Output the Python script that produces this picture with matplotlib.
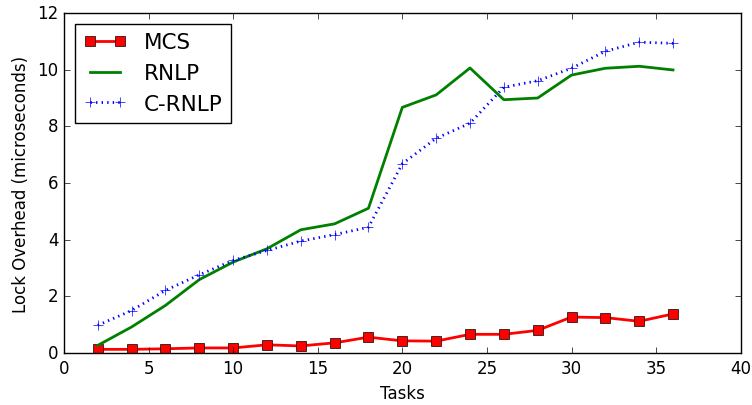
import matplotlib
matplotlib.use('Agg')
import matplotlib.pyplot as plt

# Data
tasks = [2, 4, 6, 8, 10, 12, 14, 16, 18, 20, 22, 24, 26, 28, 30, 32, 34, 36]
mcs = [0.13, 0.13, 0.15, 0.18, 0.18, 0.29, 0.25, 0.36, 0.56, 0.43,
       0.42, 0.66, 0.66, 0.80, 1.27, 1.25, 1.12, 1.38]
rnlp = [0.27, 0.92, 1.68, 2.59, 3.21, 3.68, 4.35, 4.56, 5.11, 8.67,
        9.11, 10.06, 8.94, 9.00, 9.81, 10.05, 10.12, 9.99]
crnlp = [0.98, 1.50, 2.21, 2.76, 3.27, 3.62, 3.95, 4.18, 4.44, 6.68,
         7.58, 8.11, 9.38, 9.61, 10.05, 10.65, 10.97, 10.93]

plt.style.use('classic')
plt.rcParams['font.family'] = ['DejaVu Sans']
fig = plt.figure(figsize=(7.52, 4.06), dpi=100)
ax = fig.add_axes([0.085, 0.128, 0.9, 0.8375])

ax.plot(tasks, mcs, color='r', linewidth=2, marker='s', markersize=7,
        markeredgecolor='k', label='MCS')
ax.plot(tasks, rnlp, color='g', linewidth=2, label='RNLP')
ax.plot(tasks, crnlp, color='b', linewidth=2, linestyle=':', marker='+',
        markersize=7, label='C-RNLP')

ax.set_xlim(0, 40)
ax.set_ylim(0, 12)
ax.set_xlabel('Tasks', fontsize=12)
ax.set_ylabel('Lock Overhead (microseconds)', fontsize=12)
ax.tick_params(labelsize=12)
ax.legend(loc='upper left', fontsize=15.5, numpoints=2)

fig.savefig('out.png', dpi=100)
